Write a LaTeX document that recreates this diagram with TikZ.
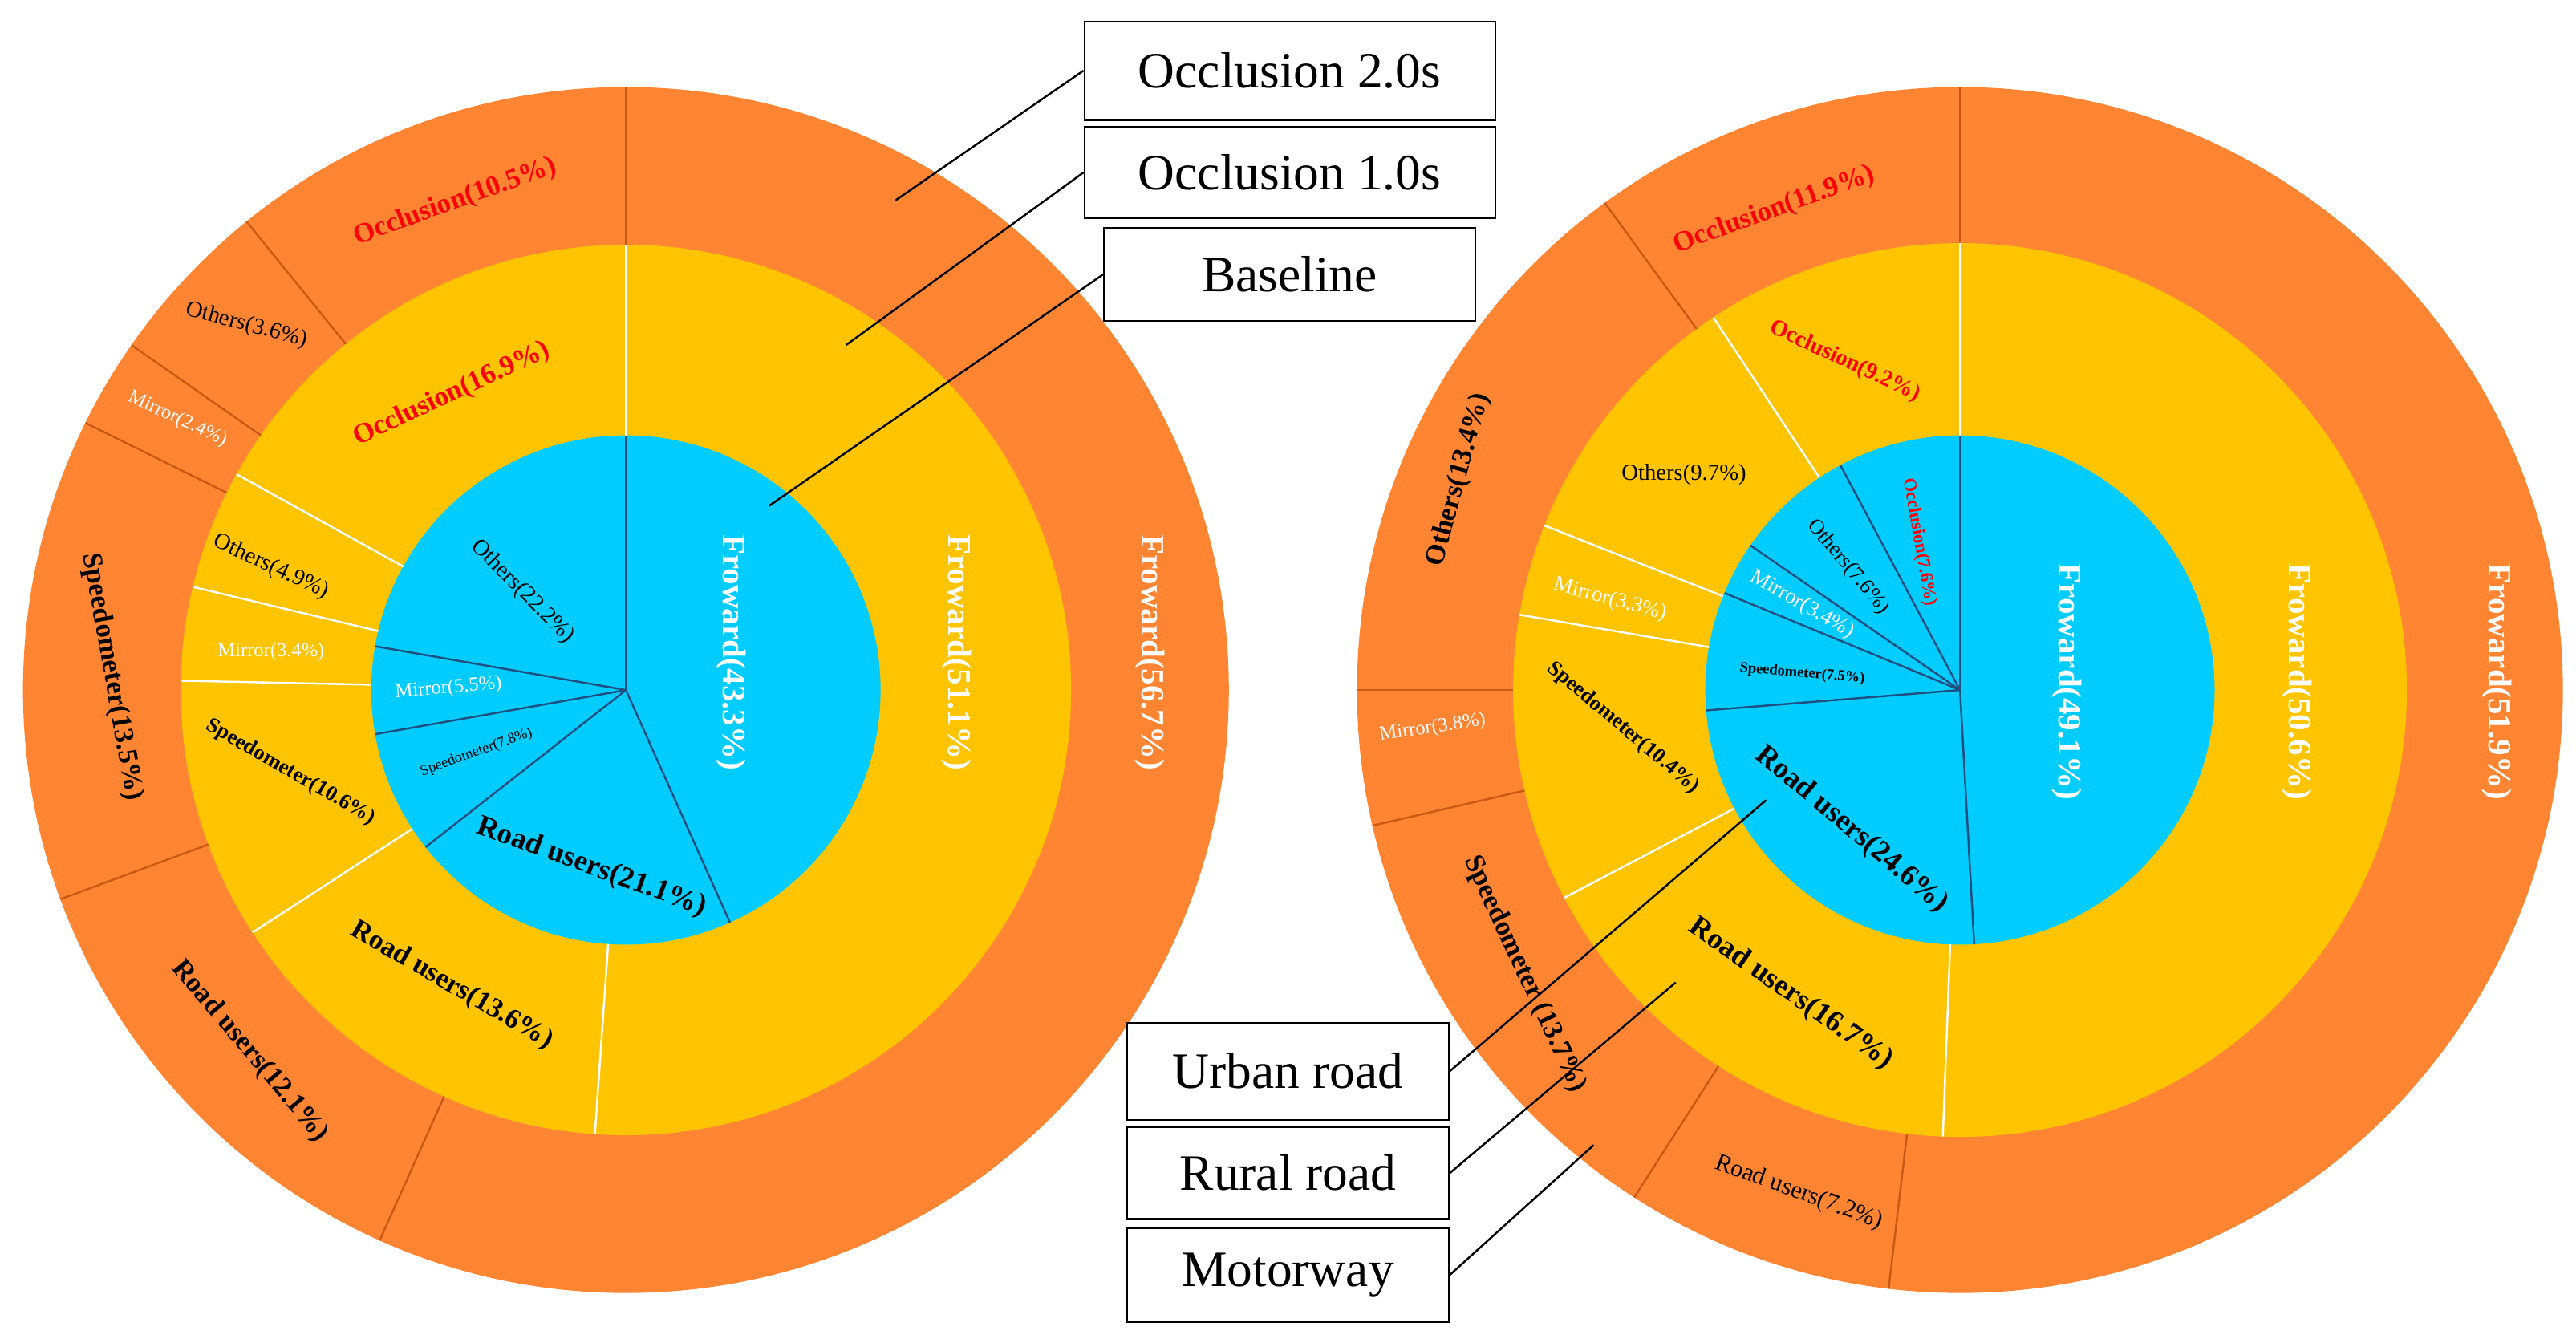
\documentclass[tikz,border=0pt]{standalone}
\usepackage{fontspec}
\setmainfont{Liberation Serif}
\begin{document}
\begin{tikzpicture}[x=1pt,y=1pt,
  outerc/.style={fill={rgb,255:red,255;green,133;blue,51}},
  midc/.style={fill={rgb,255:red,255;green,196;blue,0}},
  innc/.style={fill={rgb,255:red,0;green,204;blue,255}},
  oline/.style={draw={rgb,255:red,200;green,90;blue,20},line width=1.2pt},
  mline/.style={draw=white,line width=1.2pt},
  iline/.style={draw={rgb,255:red,30;green,80;blue,130},line width=1.2pt},
  lab/.style={inner sep=0pt,font=\fontsize{#1}{#1}\selectfont},
  blab/.style={inner sep=0pt,font=\fontsize{#1}{#1}\selectfont\bfseries},
  box/.style={draw,line width=1pt,fill=white,minimum width=#1,font=\fontsize{31}{33}\selectfont,inner sep=0pt},
  lead/.style={line width=1.2pt}]
\useasboundingbox (0,0) rectangle (1568,817);
% ---------- left chart
\begin{scope}[shift={(381,397)}]
  \fill[outerc] (0,0) circle (367);
  \fill[midc] (0,0) circle (271);
  \fill[innc] (0,0) circle (155);
  \foreach \a in {90,-65.9,-141.9,-170,-189.9} \draw[iline] (0,0) -- (\a:155);
  \foreach \a in {90,-94,-147,-181.2,-193.4,-209} \draw[mline] (\a:155) -- (\a:271);
  \foreach \a in {90,-114.1,-159.7,-206.3,-214.9,-231} \draw[oline] (\a:271) -- (\a:367);
\end{scope}
% ---------- right chart
\begin{scope}[shift={(1193,397)}]
  \fill[outerc] (0,0) circle (367);
  \fill[midc] (0,0) circle (272);
  \fill[innc] (0,0) circle (155);
  \foreach \a in {90,-86.8,-175.4,-202.4,-214.6,-242} \draw[iline] (0,0) -- (\a:155);
  \foreach \a in {90,-92.2,-152.3,-189.7,-201.6,-236.5} \draw[mline] (\a:155) -- (\a:272);
  \foreach \a in {90,-96.8,-122.7,-167,-180,-233.9} \draw[oline] (\a:272) -- (\a:367);
\end{scope}
% ---------- left labels
\node[blab=20,white,rotate=-90] (l1) at (445,420) {Froward(43.3\%)};
\node[lab=14,rotate=-45] (l2) at (318,457) {Others(22.2\%)};
\node[lab=12,white,rotate=5] (l3) at (273,398) {Mirror(5.5\%)};
\node[lab=9,rotate=20] (l4) at (290,359) {Speedometer(7.8\%)};
\node[blab=18,rotate=-20] (l5) at (360,289) {Road users(21.1\%)};
\node[blab=20,white,rotate=-90] (l6) at (582,420) {Froward(51.1\%)};
\node[blab=17,red,rotate=25] (l7) at (275,577) {Occlusion(16.9\%)};
\node[lab=14,rotate=-25] (l8) at (165,472) {Others(4.9\%)};
\node[lab=12,white] (l9) at (165,420) {Mirror(3.4\%)};
\node[blab=13,rotate=-30] (l10) at (177,347) {Speedometer(10.6\%)};
\node[blab=17,rotate=-30] (l11) at (275,217) {Road users(13.6\%)};
\node[blab=20,white,rotate=-90] (l12) at (700,420) {Froward(56.7\%)};
\node[blab=17,red,rotate=20] (l13) at (277,694) {Occlusion(10.5\%)};
\node[lab=14,rotate=-15] (l14) at (150,619) {Others(3.6\%)};
\node[lab=12,white,rotate=-25] (l15) at (108,562) {Mirror(2.4\%)};
\node[blab=17,rotate=-80] (l16) at (68,405) {Speedometer(13.5\%)};
\node[blab=17,rotate=-50] (l17) at (152,177) {Road users(12.1\%)};
% ---------- right labels
\node[blab=20,white,rotate=-90] (r1) at (1258,402) {Froward(49.1\%)};
\node[blab=11,red,rotate=-80] (r2) at (1168,487) {Occlusion(7.6\%)};
\node[lab=13,rotate=-50] (r3) at (1125,472) {Others(7.6\%)};
\node[lab=13,white,rotate=-30] (r4) at (1097,449) {Mirror(3.4\%)};
\node[blab=9,rotate=-5] (r5) at (1097,407) {Speedometer(7.5\%)};
\node[blab=18,rotate=-40] (r6) at (1127,312) {Road users(24.6\%)};
\node[blab=20,white,rotate=-90] (r7) at (1398,402) {Froward(50.6\%)};
\node[blab=14,red,rotate=-25] (r8) at (1123,597) {Occlusion(9.2\%)};
\node[lab=14] (r9) at (1025,528) {Others(9.7\%)};
\node[lab=13,white,rotate=-15] (r10) at (980,452) {Mirror(3.3\%)};
\node[blab=13,rotate=-40] (r11) at (988,374) {Speedometer(10.4\%)};
\node[blab=18,rotate=-35] (r12) at (1090,212) {Road users(16.7\%)};
\node[blab=20,white,rotate=-90] (r13) at (1520,402) {Froward(51.9\%)};
\node[blab=17,red,rotate=20] (r14) at (1080,689) {Occlusion(11.9\%)};
\node[blab=17,rotate=75] (r15) at (888,525) {Others(13.4\%)};
\node[lab=12,white,rotate=8] (r16) at (872,374) {Mirror(3.8\%)};
\node[blab=17,rotate=-65] (r17) at (928,224) {Speedometer (13.7\%)};
\node[lab=15,rotate=-20] (r18) at (1095,91) {Road users(7.2\%)};
% ---------- legend boxes
\node[box=250pt,minimum height=60pt] (b1) at (785,774) {Occlusion 2.0s};
\node[box=250pt,minimum height=56pt] (b2) at (785,712) {Occlusion 1.0s};
\node[box=226pt,minimum height=57pt] (b3) at (785,650) {Baseline};
\node[box=196pt,minimum height=59pt] (b4) at (784,165) {Urban road};
\node[box=196pt,minimum height=56pt] (b5) at (784,103) {Rural road};
\node[box=196pt,minimum height=57pt] (b6) at (784,41) {Motorway};
\coordinate (p1) at (545,695);
\coordinate (p2) at (515,607);
\coordinate (p3) at (468,509);
\coordinate (p4) at (1075,330);
\coordinate (p5) at (1020,219);
\coordinate (p6) at (970,120);
\draw[lead] (b1.west) -- (p1);
\draw[lead] (b2.west) -- (p2);
\draw[lead] (b3.west) -- (p3);
\draw[lead] (b4.east) -- (p4);
\draw[lead] (b5.east) -- (p5);
\draw[lead] (b6.east) -- (p6);
\end{tikzpicture}
\end{document}
